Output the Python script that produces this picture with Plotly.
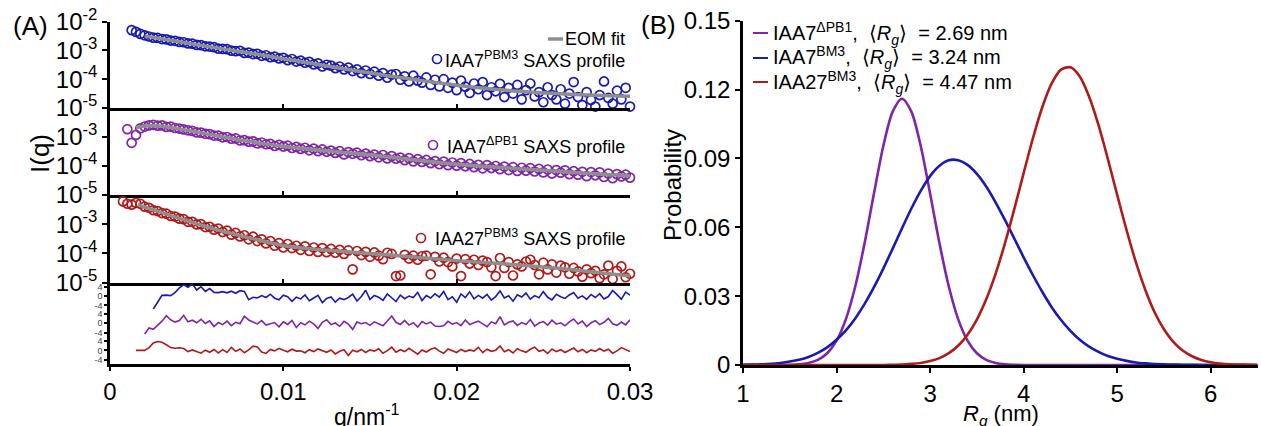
import plotly.graph_objects as go

W, H = 1261, 426
def px(v): return v / W
def py(v): return 1 - v / H

# ---------------- Panel A data ----------------
Q = [0.00075, 0.00100, 0.00125, 0.00150, 0.00175, 0.00200, 0.00225, 0.00250, 0.00275, 0.00300,
     0.00325, 0.00350, 0.00375, 0.00400, 0.00425, 0.00450, 0.00475, 0.00500, 0.00525, 0.00550,
     0.00575, 0.00600, 0.00625, 0.00650, 0.00675, 0.00700, 0.00725, 0.00750, 0.00775, 0.00800,
     0.00825, 0.00850, 0.00875, 0.00900, 0.00925, 0.00950, 0.00975, 0.01000, 0.01025, 0.01050,
     0.01075, 0.01100, 0.01125, 0.01150, 0.01175, 0.01200, 0.01225, 0.01250, 0.01275, 0.01300,
     0.01325, 0.01350, 0.01375, 0.01400, 0.01425, 0.01450, 0.01475, 0.01500, 0.01525, 0.01550,
     0.01575, 0.01600, 0.01625, 0.01650, 0.01675, 0.01700, 0.01725, 0.01750, 0.01775, 0.01800,
     0.01825, 0.01850, 0.01875, 0.01900, 0.01925, 0.01950, 0.01975, 0.02000, 0.02025, 0.02050,
     0.02075, 0.02100, 0.02125, 0.02150, 0.02175, 0.02200, 0.02225, 0.02250, 0.02275, 0.02300,
     0.02325, 0.02350, 0.02375, 0.02400, 0.02425, 0.02450, 0.02475, 0.02500, 0.02525, 0.02550,
     0.02575, 0.02600, 0.02625, 0.02650, 0.02675, 0.02700, 0.02725, 0.02750, 0.02775, 0.02800,
     0.02825, 0.02850, 0.02875, 0.02900, 0.02925, 0.02950, 0.02975, 0.03000]

# log10 I(q) values (IAA7 PBM3, blue) starting at Q[2]
iaa7_pbm3_logI = [
    -2.30, -2.36, -2.43, -2.48, -2.52, -2.56, -2.57, -2.61,
    -2.62, -2.66, -2.67, -2.71, -2.72, -2.76, -2.77, -2.81, -2.82, -2.86,
    -2.87, -2.89, -2.94, -2.95, -2.96, -3.01, -3.03, -3.02, -3.09, -3.08,
    -3.13, -3.12, -3.19, -3.17, -3.24, -3.22, -3.28, -3.26, -3.34, -3.30,
    -3.39, -3.36, -3.43, -3.40, -3.49, -3.45, -3.56, -3.50, -3.53, -3.62,
    -3.56, -3.66, -3.60, -3.72, -3.66, -3.79, -3.70, -3.82, -3.74, -3.88,
    -3.79, -3.95, -3.84, -3.82, -4.02, -3.90, -4.08, -3.88, -4.05, -4.12,
    -3.94, -4.20, -4.02, -4.25, -4.00, -4.30, -4.12, -4.38, -4.05, -4.26,
    -4.48, -4.15, -4.35, -4.10, -4.55, -4.28, -4.42, -4.16, -4.62, -4.30,
    -4.50, -4.20, -4.70, -4.38, -4.15, -4.60, -4.45, -4.80, -4.28, -4.55,
    -4.70, -4.35, -4.85, -4.50, -4.10, -4.62, -4.90, -4.45, -4.72, -4.95,
    -4.55, -4.08, -4.65, -4.85, -4.40, -4.70, -4.30, -4.95]

# log10 I(q) values (IAA7 dPB1, purple) starting at Q[1]
iaa7_dpb1_logI = [
    -2.73, -3.20, -2.93, -2.70, -2.64, -2.60, -2.58, -2.61, -2.60,
    -2.65, -2.64, -2.69, -2.71, -2.74, -2.77, -2.79, -2.84, -2.85, -2.89,
    -2.90, -2.95, -2.95, -3.01, -3.00, -3.06, -3.05, -3.12, -3.11, -3.16,
    -3.15, -3.22, -3.19, -3.25, -3.24, -3.31, -3.27, -3.33, -3.30, -3.38,
    -3.34, -3.41, -3.37, -3.46, -3.40, -3.49, -3.43, -3.51, -3.47, -3.55,
    -3.49, -3.60, -3.52, -3.58, -3.54, -3.63, -3.57, -3.66, -3.61, -3.70,
    -3.62, -3.74, -3.66, -3.75, -3.71, -3.80, -3.73, -3.84, -3.76, -3.86,
    -3.79, -3.90, -3.83, -3.94, -3.85, -3.97, -3.88, -3.99, -3.90, -4.01,
    -3.93, -4.04, -3.96, -4.08, -3.97, -4.07, -4.00, -4.11, -4.02, -4.14,
    -4.04, -4.17, -4.06, -4.16, -4.07, -4.19, -4.10, -4.22, -4.12, -4.26,
    -4.14, -4.23, -4.15, -4.28, -4.18, -4.30, -4.20, -4.35, -4.21, -4.32,
    -4.22, -4.38, -4.26, -4.42, -4.28, -4.36, -4.30, -4.40]

# log10 I(q) values (IAA27 PBM3, red) starting at Q[0]
iaa27_pbm3_logI = [
    -2.22, -2.30, -2.33, -2.27, -2.30, -2.40, -2.44, -2.52, -2.55, -2.62,
    -2.64, -2.72, -2.74, -2.81, -2.83, -2.92, -2.92, -3.01, -3.00, -3.10,
    -3.09, -3.19, -3.15, -3.27, -3.22, -3.36, -3.30, -3.42, -3.38, -3.52,
    -3.43, -3.58, -3.52, -3.66, -3.58, -3.74, -3.65, -3.80, -3.68, -3.82,
    -3.74, -3.88, -3.76, -3.92, -3.80, -3.95, -3.82, -3.96, -3.85, -3.98,
    -3.88, -4.02, -3.90, -4.55, -3.92, -4.06, -3.95, -4.12, -3.97, -4.08,
    -4.20, -3.98, -4.02, -4.78, -4.76, -4.05, -4.18, -4.08, -4.22, -4.10,
    -4.08, -4.72, -4.12, -4.28, -4.15, -4.30, -4.45, -4.18, -4.78, -4.20,
    -4.35, -4.22, -4.40, -4.25, -4.30, -4.48, -4.78, -4.16, -4.50, -4.30,
    -4.76, -4.38, -4.45, -4.28, -4.22, -4.40, -4.72, -4.32, -4.55, -4.38,
    -4.66, -4.42, -4.48, -4.70, -4.50, -4.62, -4.80, -4.55, -4.68, -4.60,
    -4.85, -4.72, -4.42, -4.88, -4.60, -4.45, -4.82, -4.70]

# EOM fits (log10 I)
fit_q_blue = [0.002, 0.004, 0.006, 0.008, 0.010, 0.012, 0.014, 0.016, 0.018, 0.020,
              0.022, 0.024, 0.026, 0.028, 0.030]
fit_blue = [-2.50, -2.70, -2.90, -3.09, -3.29, -3.49, -3.69, -3.88, -4.05, -4.21,
            -4.34, -4.44, -4.51, -4.56, -4.59]
fit_q_purple = [0.0015, 0.002, 0.0025, 0.003, 0.0035, 0.004, 0.005, 0.006, 0.008, 0.010,
                0.012, 0.014, 0.016, 0.018, 0.020, 0.022, 0.024, 0.026, 0.028, 0.030]
fit_purple = [-2.68, -2.62, -2.61, -2.63, -2.67, -2.72, -2.83, -2.94, -3.15, -3.32,
              -3.45, -3.56, -3.68, -3.82, -3.94, -4.03, -4.11, -4.19, -4.27, -4.34]
fit_q_red = [0.0016, 0.002, 0.004, 0.006, 0.008, 0.010, 0.012, 0.014, 0.016, 0.018,
             0.020, 0.022, 0.024, 0.026, 0.028, 0.030]
fit_red = [-2.34, -2.41, -2.80, -3.16, -3.46, -3.73, -3.87, -3.96, -4.05, -4.15,
           -4.25, -4.33, -4.42, -4.52, -4.65, -4.78]

# residuals
res_blue = [
    -5.5, -2.5, 0.3,
    0.4, 0.2, 1.5, 3.5, 4.8, 3.8, 5.2, 2.6, 4.0, 2.0,
    3.2, 1.6, 1.5, 1.9, 1.4, 2.1, 1.2, 2.3, 2.0, -1.5,
    -0.5, -0.8, 0.2, -0.6, 0.8, -0.9, -1.6, 0.4, -0.3, -2.2,
    -0.5, -1.2, 0.5, -2.0, -0.8, 0.3, -2.8, -1.0, -0.4, -2.6,
    -0.9, -1.5, -0.6, 0.8, -2.1, -0.2, 2.5, -1.4, 0.3, -0.5,
    -1.8, 0.9, -0.7, -2.3, 0.4, -1.1, 0.0, -0.6, 1.6, -1.9,
    0.2, -0.8, 1.0, -0.4, 2.0, -1.5, -0.3, -2.6, 0.9, -0.6,
    1.8, -1.2, 0.3, -0.9, 0.7, -1.7, -0.2, 2.2, -0.8, 0.1,
    -2.2, 0.6, -0.4, 1.3, -1.3, 0.2, -0.7, 1.9, -0.5, -1.6,
    0.8, -0.3, -1.0, 0.5, 1.5, -0.9, 0.1, -1.4, 0.7, -0.6,
    1.0, -1.2, -0.2, 2.4, 0.6, -1.3, 1.7, 0.4]
res_purple = [
    -4.6, -2.0, -2.6, -0.8, 0.9,
    3.2, 1.5, 0.5, 1.2, 3.4, 0.6, 1.3, 0.2, 1.7, -0.1,
    1.0, -1.4, 0.3, -0.6, 0.9, -1.0, 0.4, -0.2, 3.0, 1.4,
    0.5, -0.3, 1.1, -0.8, -0.2, 0.3, -1.5, 0.6, -0.5, 1.2,
    -1.8, 0.2, -0.7, 0.9, -0.3, -2.2, 0.4, 1.5, -0.6, 0.1,
    -1.3, 0.8, -0.4, -2.6, 0.5, -0.2, 0.3, -0.9, 0.6, -0.1,
    -1.1, 1.0, 3.1, 0.4, -0.5, 1.2, -0.8, 0.2, -1.6, 0.7,
    -0.3, 0.5, -1.2, -1.4, -1.1, 0.8, -0.4, 0.3, -1.0, 1.4,
    -0.6, 0.2, 0.9, -0.3, -1.5, 0.6, -0.2, 2.8, -0.7, 0.4,
    1.0, -0.9, 0.3, -0.5, 1.6, -1.2, 0.1, 0.7, -0.8, 1.3,
    -0.4, 0.2, -1.1, 0.6, 1.8, -0.3, 0.9, -1.4, 0.2, 1.1,
    -0.6, 0.4, 2.1, -0.2, -0.9, 0.5, -0.7, 1.5]
res_red = [
    0.0, 0.0, 0.0, 1.2, 3.2, 3.8, 3.5,
    2.4, 1.2, 0.9, 1.1, 0.8, -0.5, 0.2, -0.6, -1.2, 0.1,
    -0.8, 0.4, -1.1, 0.3, -0.9, 1.3, -0.4, 0.6, -1.0, 0.2,
    1.8, 1.5, -0.7, -1.3, 0.4, -0.2, 0.9, 0.1, -0.6, 0.5,
    -0.3, -0.2, -1.0, 0.3, -0.5, 0.6, -0.1, -0.8, 0.2, -1.5,
    -0.4, 0.3, -2.2, 0.1, -0.6, 0.4, -0.9, 0.2, -0.3, 0.7,
    -1.2, -0.1, 1.4, -0.8, 0.3, -0.5, 0.9, -0.4, -1.6, 0.2,
    -0.7, 0.5, 1.1, -0.3, -1.2, 0.6, -0.2, -0.9, 0.4, -0.5,
    0.2, -0.3, 1.3, -1.0, 0.5, -0.4, 0.1, 1.9, -0.6, 0.3,
    -1.1, 0.7, -0.2, -0.8, 0.5, 1.4, -0.4, 0.2, -1.3, 0.6,
    -0.5, 0.3, -0.9, 0.1, 1.0, -0.6, 0.4, -1.0, 0.2, -0.4,
    0.8, -0.3, 0.5, -1.2, -0.2, 1.2, 0.3, -0.5]

# ---------------- Panel B data ----------------
RG = [1.0, 1.1, 1.2, 1.3, 1.4, 1.5, 1.6, 1.7, 1.8, 1.9,
      2.0, 2.1, 2.2, 2.3, 2.4, 2.5, 2.6, 2.7, 2.8, 2.9,
      3.0, 3.1, 3.2, 3.3, 3.4, 3.5, 3.6, 3.7, 3.8, 3.9,
      4.0, 4.1, 4.2, 4.3, 4.4, 4.5, 4.6, 4.7, 4.8, 4.9,
      5.0, 5.1, 5.2, 5.3, 5.4, 5.5, 5.6, 5.7, 5.8, 5.9,
      6.0, 6.1, 6.2, 6.3, 6.4, 6.5]
p_iaa7_dpb1 = [0, 0, 0, 0, 0, 0.0001, 0.0003, 0.0009, 0.0022, 0.0051,
               0.0106, 0.0200, 0.0342, 0.0531, 0.0747, 0.0954, 0.1104, 0.1160, 0.1104, 0.0954,
               0.0747, 0.0531, 0.0342, 0.0200, 0.0106, 0.0051, 0.0022, 0.0009, 0.0003, 0.0001,
               0, 0, 0, 0, 0, 0, 0, 0, 0, 0,
               0, 0, 0, 0, 0, 0, 0, 0, 0, 0,
               0, 0, 0, 0, 0, 0]
p_iaa7_bm3 = [0.0001, 0.0002, 0.0003, 0.0005, 0.0009, 0.0015, 0.0023, 0.0035, 0.0053, 0.0077,
              0.0110, 0.0151, 0.0203, 0.0266, 0.0339, 0.0420, 0.0507, 0.0596, 0.0682, 0.0759,
              0.0823, 0.0868, 0.0892, 0.0892, 0.0872, 0.0833, 0.0778, 0.0709, 0.0632, 0.0551,
              0.0469, 0.0391, 0.0318, 0.0252, 0.0196, 0.0149, 0.0110, 0.0080, 0.0057, 0.0039,
              0.0027, 0.0018, 0.0011, 0.0007, 0.0004, 0.0003, 0.0002, 0.0001, 0.0001, 0,
              0, 0, 0, 0, 0, 0]
p_iaa27_bm3 = [0, 0, 0, 0, 0, 0, 0, 0, 0, 0,
               0, 0, 0, 0, 0, 0, 0.0001, 0.0002, 0.0005, 0.0009,
               0.0017, 0.0030, 0.0052, 0.0084, 0.0132, 0.0198, 0.0286, 0.0397, 0.0530, 0.0679,
               0.0836, 0.0989, 0.1124, 0.1227, 0.1287, 0.1297, 0.1257, 0.1169, 0.1046, 0.0898,
               0.0741, 0.0588, 0.0448, 0.0328, 0.0230, 0.0156, 0.0101, 0.0063, 0.0038, 0.0022,
               0.0012, 0.0006, 0.0003, 0.0002, 0.0001, 0]

logI_ticks = [-5, -4, -3, -2]
logI_text = ['10<sup>-5</sup>', '10<sup>-4</sup>', '10<sup>-3</sup>', '10<sup>-2</sup>']
q_ticks = [0, 0.01, 0.02, 0.03]
q_text = ['0', '0.01', '0.02', '0.03']
res_ticks = [-4, 0, 4]
res_text = ['-4', '0', '4']
prob_ticks = [0, 0.03, 0.06, 0.09, 0.12, 0.15]
prob_text = ['0', '0.03', '0.06', '0.09', '0.12', '0.15']
rg_ticks = [1, 2, 3, 4, 5, 6]

# ---------------- styling ----------------
BLUE = '#1a1ab0'
PURPLE = '#8024a8'
RED = '#b01a1a'
GRAY = '#8e8e8e'
FONT = 'Liberation Sans, Arial, sans-serif'

fig = go.Figure()

def data_trace(x, y, color, xa, ya):
    return go.Scatter(x=x, y=y, mode='markers', xaxis=xa, yaxis=ya, cliponaxis=False,
                      marker=dict(symbol='circle-open', size=9, color=color, line=dict(width=1.7)))

def fit_trace(x, y, xa, ya):
    return go.Scatter(x=x, y=y, mode='lines', xaxis=xa, yaxis=ya,
                      line=dict(color=GRAY, width=3.5, shape='spline'))

fig.add_trace(data_trace(Q[2:], iaa7_pbm3_logI, BLUE, 'x', 'y'))
fig.add_trace(fit_trace(fit_q_blue, fit_blue, 'x', 'y'))
fig.add_trace(data_trace(Q[1:], iaa7_dpb1_logI, PURPLE, 'x2', 'y2'))
fig.add_trace(fit_trace(fit_q_purple, fit_purple, 'x2', 'y2'))
fig.add_trace(data_trace(Q[0:], iaa27_pbm3_logI, RED, 'x3', 'y3'))
fig.add_trace(fit_trace(fit_q_red, fit_red, 'x3', 'y3'))

fig.add_trace(go.Scatter(x=Q[7:], y=res_blue, mode='lines', xaxis='x4', yaxis='y4',
                         line=dict(color=BLUE, width=1.6)))
fig.add_trace(go.Scatter(x=Q[5:], y=res_purple, mode='lines', xaxis='x4', yaxis='y5',
                         line=dict(color=PURPLE, width=1.6)))
fig.add_trace(go.Scatter(x=Q[3:], y=res_red, mode='lines', xaxis='x4', yaxis='y6',
                         line=dict(color=RED, width=1.6)))

fig.add_trace(go.Scatter(x=RG, y=p_iaa7_dpb1, mode='lines', xaxis='x5', yaxis='y7',
                         line=dict(color=PURPLE, width=2.6, shape='spline', smoothing=0.8)))
fig.add_trace(go.Scatter(x=RG, y=p_iaa7_bm3, mode='lines', xaxis='x5', yaxis='y7',
                         line=dict(color=BLUE, width=2.6, shape='spline', smoothing=0.8)))
fig.add_trace(go.Scatter(x=RG, y=p_iaa27_bm3, mode='lines', xaxis='x5', yaxis='y7',
                         line=dict(color=RED, width=2.6, shape='spline', smoothing=0.8)))

common = dict(showgrid=False, zeroline=False, showline=True, linecolor='black',
              linewidth=2.5, tickcolor='black', tickwidth=2, automargin=False)
XA = [px(110), px(630)]

def top_x(anchor):
    return dict(domain=XA, anchor=anchor, range=[0, 0.03], tickvals=q_ticks[1:],
                ticks='inside', ticklen=4, showticklabels=False, **common)

def logy(dom, anchor, vals, text):
    return dict(domain=dom, anchor=anchor, range=[-5, -2], tickvals=vals, ticktext=text,
                ticks='outside', ticklen=5, tickfont=dict(size=24, color='black'), **common)

def resy(dom):
    return dict(domain=dom, anchor='x4', range=[-5.8, 5.8], tickvals=res_ticks, ticktext=res_text,
                ticks='outside', ticklen=3, tickfont=dict(size=9, color='#444'), **common)

fig.update_layout(
    template='none',
    width=W, height=H, margin=dict(l=0, r=0, t=0, b=0, pad=0), autosize=False,
    paper_bgcolor='white', plot_bgcolor='white', showlegend=False,
    font=dict(family=FONT, color='black'),
    xaxis=top_x('y'),
    yaxis=logy([py(108), py(21.5)], 'x', logI_ticks, logI_text),
    xaxis2=top_x('y2'),
    yaxis2=logy([py(195), py(108)], 'x2', logI_ticks[:3], logI_text[:3]),
    xaxis3=top_x('y3'),
    yaxis3=logy([py(282.5), py(195)], 'x3', logI_ticks[:3], logI_text[:3]),
    xaxis4=dict(domain=XA, anchor='y6', range=[0, 0.03], tickvals=q_ticks, ticktext=q_text,
                ticks='outside', ticklen=4, tickfont=dict(size=24, color='black'), **common),
    yaxis4=resy([py(309.7), py(282.5)]),
    yaxis5=resy([py(336.8), py(309.7)]),
    yaxis6=resy([py(364), py(336.8)]),
    xaxis5=dict(domain=[px(743), px(1257.5)], anchor='y7', range=[1, 6.5], tickvals=rg_ticks,
                ticks='outside', ticklen=5, tickfont=dict(size=24, color='black'),
                layer='below traces', **common),
    yaxis7=dict(domain=[py(365), py(20.7)], anchor='x5', range=[0, 0.15], tickvals=prob_ticks,
                ticktext=prob_text, ticks='outside', ticklen=5,
                tickfont=dict(size=24, color='black'), layer='below traces', **common),
)

ann = []
def text(x, y, s, size, xanchor='center', angle=0, color='black'):
    ann.append(dict(x=px(x), y=py(y), xref='paper', yref='paper', text=s, showarrow=False,
                    xanchor=xanchor, yanchor='middle', textangle=angle,
                    font=dict(family=FONT, size=size, color=color)))

text(30, 26, '(A)', 26)
text(658, 25, '(B)', 26)
text(40, 154, 'I(q)', 26, angle=-90)
text(367, 415, 'q/nm<sup>-1</sup>', 23)
text(673, 185, 'Probability', 24, angle=-90)
text(1001, 415, '<i>R<sub>g</sub></i> (nm)', 22)

# panel A legend texts
text(627, 39, 'EOM fit', 18, xanchor='right')
text(627, 59, 'IAA7<sup>PBM3</sup> SAXS profile', 18, xanchor='right')
text(627, 145, 'IAA7<sup>ΔPB1</sup> SAXS profile', 18, xanchor='right')
text(627, 238, 'IAA27<sup>PBM3</sup> SAXS profile', 18, xanchor='right')

# panel B legend texts
text(771, 33, 'IAA7<sup>ΔPB1</sup>,  ⟨<i>R<sub>g</sub></i>⟩  = 2.69 nm', 20, xanchor='left')
text(771, 58, 'IAA7<sup>BM3</sup>,  ⟨<i>R<sub>g</sub></i>⟩  = 3.24 nm', 20, xanchor='left')
text(771, 82, 'IAA27<sup>BM3</sup>,  ⟨<i>R<sub>g</sub></i>⟩  = 4.47 nm', 20, xanchor='left')
fig.update_layout(annotations=ann)

shapes = []
def key_line(x0, x1, y, color, width):
    shapes.append(dict(type='line', xref='paper', yref='paper', x0=px(x0), x1=px(x1),
                       y0=py(y), y1=py(y), line=dict(color=color, width=width)))
def key_circle(cx, cy, color):
    r = 4.5
    shapes.append(dict(type='circle', xref='paper', yref='paper', x0=px(cx - r), x1=px(cx + r),
                       y0=py(cy + r), y1=py(cy - r), line=dict(color=color, width=1.7)))

key_line(548, 563, 39, GRAY, 3.5)
key_circle(437, 59, BLUE)
key_circle(433, 145, PURPLE)
key_circle(421, 238, RED)
key_line(753, 768, 33, PURPLE, 2)
key_line(753, 768, 58, BLUE, 2)
key_line(753, 768, 82, RED, 2)
fig.update_layout(shapes=shapes)

fig.write_html('out.html')
